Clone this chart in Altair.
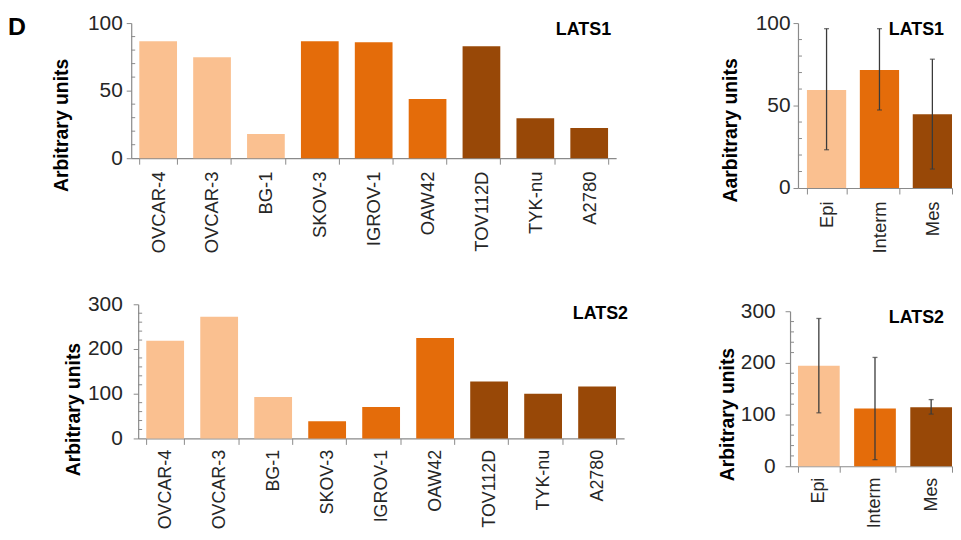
import altair as alt
import pandas as pd

# ---------------- data ----------------
cell_lines = ["OVCAR-4", "OVCAR-3", "BG-1", "SKOV-3", "IGROV-1", "OAW42", "TOV112D", "TYK-nu", "A2780"]
cell_groups = ["Epi", "Epi", "Epi", "Interm", "Interm", "Interm", "Mes", "Mes", "Mes"]
lats1_cells = [86.5, 74.7, 18.0, 86.5, 85.8, 43.8, 82.9, 29.6, 22.3]
lats2_cells = [218.5, 271.9, 92.6, 38.5, 70.4, 224.4, 127.4, 100.0, 116.3]

groups = ["Epi", "Interm", "Mes"]
lats1_mean = [59.4, 71.5, 44.7]
lats1_lo = [23.2, 47.3, 11.5]
lats1_hi = [96.6, 96.6, 78.1]
lats2_mean = [194.7, 111.7, 114.3]
lats2_lo = [103.4, 12.8, 100.9]
lats2_hi = [286.0, 210.6, 129.0]

group_colors = ["#FAC090", "#E46C0A", "#984807"]

lats1_major = [0, 50, 100]
lats1_minor = [10, 20, 30, 40, 60, 70, 80, 90]
lats2_major = [0, 100, 200, 300]
lats2_minor = [20, 40, 60, 80, 120, 140, 160, 180, 220, 240, 260, 280]

FONT = "Liberation Sans"
AXIS_GRAY = "#8a8a8a"
LABEL = "#262626"
ERR = "#3a3a3a"


def panel(cats, grps, vals, ymax, major, minor, width, height, ytitle,
          title_y, title_pad, label_pad, pin, pout, align, name, name_x, name_y,
          xlab_size, xlab_pad, lo=None, hi=None):
    df = pd.DataFrame({"cat": cats, "grp": grps, "val": vals})
    yscale = alt.Scale(domain=[0, ymax], nice=False, zero=True)
    xscale = alt.Scale(paddingInner=pin, paddingOuter=pout, align=align)
    x_axis = alt.Axis(title=None, labelAngle=-90, labelFontSize=xlab_size, labelFont=FONT,
                      labelColor=LABEL, tickBand="extent", tickSize=6, tickColor=AXIS_GRAY,
                      domainColor=AXIS_GRAY, domainWidth=1.2, labelPadding=xlab_pad)
    y_axis = alt.Axis(title=ytitle, values=major, format="d", grid=False, tickSize=5,
                      tickColor=AXIS_GRAY, domainColor=AXIS_GRAY, domainWidth=1.2,
                      labelFontSize=21, labelFont=FONT, labelColor=LABEL,
                      labelPadding=label_pad, titleFont=FONT, titleFontSize=19.5,
                      titleFontWeight="bold", titleColor="black", titlePadding=title_pad,
                      titleY=title_y)
    xenc = alt.X("cat:N", sort=cats, scale=xscale, axis=x_axis)
    bars = alt.Chart(df).mark_bar().encode(
        x=xenc,
        y=alt.Y("val:Q", scale=yscale, axis=y_axis),
        color=alt.Color("grp:N", scale=alt.Scale(domain=groups, range=group_colors), legend=None),
    )
    mdf = pd.DataFrame({"m": minor})
    minor_layer = alt.Chart(mdf).mark_rule(color=AXIS_GRAY, strokeWidth=1).encode(
        y=alt.Y("m:Q", scale=yscale, axis=y_axis),
        x=alt.value(0), x2=alt.value(4),
    )
    layers = [bars, minor_layer]
    if lo is not None:
        edf = pd.DataFrame({"cat": cats, "lo": lo, "hi": hi})
        rule = alt.Chart(edf).mark_rule(color=ERR, strokeWidth=1.3).encode(
            x=xenc, y=alt.Y("lo:Q", scale=yscale, axis=y_axis), y2="hi:Q")
        cap_lo = alt.Chart(edf).mark_tick(color=ERR, thickness=1.3, size=5).encode(
            x=xenc, y=alt.Y("lo:Q", scale=yscale, axis=y_axis))
        cap_hi = alt.Chart(edf).mark_tick(color=ERR, thickness=1.3, size=5).encode(
            x=xenc, y=alt.Y("hi:Q", scale=yscale, axis=y_axis))
        layers += [rule, cap_lo, cap_hi]
    txt = alt.Chart(pd.DataFrame({"t": [name]})).mark_text(
        align="right", baseline="alphabetic", font=FONT, fontSize=18,
        fontWeight="bold", color="black").encode(
        text="t:N", x=alt.value(name_x), y=alt.value(name_y))
    layers.append(txt)
    return alt.layer(*layers).properties(width=width, height=height)


def spacer(w, h, anchor=False):
    mark = alt.Chart(pd.DataFrame({"s": [" " if anchor else ""]})).mark_text(
        align="left", baseline="top", fontSize=4)
    if anchor:
        enc = mark.encode(text="s:N", x=alt.value(0), y=alt.value(0))
    else:
        enc = mark.encode(text="s:N")
    return enc.properties(width=w, height=h)


tl = panel(cell_lines, cell_groups, lats1_cells, 100, lats1_major, lats1_minor,
           488, 136, "Arbitrary units", 102.5, 16, 4, 0.3, 0.15, 0.5, "LATS1", 483, 12,
           18.5, 7)
bl = panel(cell_lines, cell_groups, lats2_cells, 300, lats2_major, lats2_minor,
           489, 135, "Arbitrary units", 105.5, 4, 11, 0.3, 0.15, 0.5, "LATS2", 493, 15,
           18, 5)
tr = panel(groups, groups, lats1_mean, 100, lats1_major, lats1_minor,
           155, 166, "Aarbitrary units", 107.5, 15, 3, 0.258, 0.0845, 1, "LATS1", 147, 12,
           18.5, 7, lats1_lo, lats1_hi)
br = panel(groups, groups, lats2_mean, 300, lats2_major, lats2_minor,
           163, 156, "Arbitrary units", 103.5, 3, 10, 0.257, 0.0708, 1, "LATS2", 155, 12,
           18, 5, lats2_lo, lats2_hi)

d_chart = alt.Chart(pd.DataFrame({"t": ["D"]})).mark_text(
    align="left", baseline="top", fontSize=25, fontWeight="bold", font=FONT,
    color="black").encode(text="t:N", x=alt.value(0), y=alt.value(-8)).properties(
    width=124, height=1)

row1 = alt.hconcat(d_chart, tl, spacer(183, 1), tr, spacing=0, bounds="flush")
br_cell = alt.vconcat(spacer(1, 7), br, spacing=0, bounds="flush")
row2 = alt.hconcat(spacer(131, 1, anchor=True), bl, spacer(167, 1), br_cell,
                   spacing=0, bounds="flush")

chart = alt.vconcat(row1, row2, spacing=40).properties(
    padding={"left": 0, "top": 2.5, "right": 0, "bottom": 0},
    background="white",
).configure_view(stroke=None)

chart.save("out.html", embed_options={"renderer": "svg", "actions": False})
